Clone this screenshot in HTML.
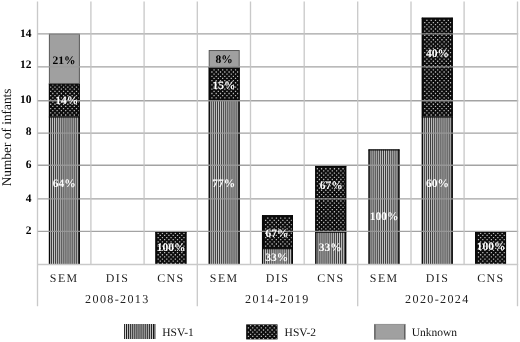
<!DOCTYPE html>
<html><head><meta charset="utf-8"><title>chart</title>
<style>
html,body{margin:0;padding:0;background:#fff;}
svg{display:block;font-family:"Liberation Serif",serif;will-change:transform;}
.b{font-weight:bold;font-size:11.5px;}
.c{font-size:11.9px;letter-spacing:1.45px;}
.g{font-size:12.1px;letter-spacing:1.35px;}
text{text-rendering:geometricPrecision;}
.l{font-size:11.5px;}
</style></head><body>
<svg width="520" height="342" viewBox="0 0 520 342">
<defs>
<filter id="bl" x="-5%" y="-5%" width="110%" height="110%"><feGaussianBlur stdDeviation="0.5"/></filter>
<filter id="b2" x="-5%" y="-5%" width="110%" height="110%"><feGaussianBlur stdDeviation="0.3"/></filter>
</defs>
<rect width="520" height="342" fill="#fff"/>

<g>
<g filter="url(#b2)">
<rect x="48.89" y="116.46" width="31" height="147.64" fill="#383838"/>
<path d="M49.89 190.28H78.98" stroke="#c6c6c6" stroke-width="147.64" stroke-dasharray="1.05 1.02" fill="none"/>
</g>
<path d="M49.49 264.1V116.46M79.29 116.46V264.1" fill="none" stroke="#080808" stroke-width="1.2"/><path d="M48.89 117.01H79.89" stroke="#080808" stroke-width="1.1"/>
<g filter="url(#bl)">
<rect x="48.89" y="83.54" width="31" height="32.92" fill="#080808"/>
<path d="M52.15 84.9H78.98M52.15 89.2H78.98M52.15 93.5H78.98M52.15 97.8H78.98M52.15 102.1H78.98M52.15 106.4H78.98M52.15 110.7H78.98M52.15 115H78.98" stroke="#bcbcbc" stroke-width="1.3" stroke-dasharray="1.3 3" fill="none"/>
<path d="M50 87.05H78.98M50 91.35H78.98M50 95.65H78.98M50 99.95H78.98M50 104.25H78.98M50 108.55H78.98M50 112.85H78.98" stroke="#bcbcbc" stroke-width="1.3" stroke-dasharray="1.3 3" fill="none"/>
</g>
<path d="M49.49 116.46V83.54M79.29 83.54V116.46" fill="none" stroke="#080808" stroke-width="1.2"/><path d="M48.89 84.09H79.89" stroke="#080808" stroke-width="1.1"/>
<rect x="49.39" y="34.06" width="30" height="49.48" fill="#a0a0a0" stroke="#585858" stroke-width="1"/>
<g filter="url(#bl)">
<rect x="155.43" y="231.68" width="31" height="32.42" fill="#080808"/>
<path d="M159.65 235.4H185.53M159.65 239.7H185.53M159.65 244H185.53M159.65 248.3H185.53M159.65 252.6H185.53M159.65 256.9H185.53M159.65 261.2H185.53" stroke="#bcbcbc" stroke-width="1.3" stroke-dasharray="1.3 3" fill="none"/>
<path d="M157.5 233.25H185.53M157.5 237.55H185.53M157.5 241.85H185.53M157.5 246.15H185.53M157.5 250.45H185.53M157.5 254.75H185.53M157.5 259.05H185.53M157.5 263.35H185.53" stroke="#bcbcbc" stroke-width="1.3" stroke-dasharray="1.3 3" fill="none"/>
</g>
<path d="M156.03 264.1V231.68M185.83 231.68V264.1" fill="none" stroke="#080808" stroke-width="1.2"/><path d="M155.43 232.23H186.43" stroke="#080808" stroke-width="1.1"/>
<g filter="url(#b2)">
<rect x="208.7" y="100" width="31" height="164.1" fill="#383838"/>
<path d="M209.7 182.05H238.8" stroke="#c6c6c6" stroke-width="164.1" stroke-dasharray="1.05 1.02" fill="none"/>
</g>
<path d="M209.3 264.1V100M239.1 100V264.1" fill="none" stroke="#080808" stroke-width="1.2"/><path d="M208.7 100.55H239.7" stroke="#080808" stroke-width="1.1"/>
<g filter="url(#bl)">
<rect x="208.7" y="67.08" width="31" height="32.92" fill="#080808"/>
<path d="M211.25 72H238.8M211.25 76.3H238.8M211.25 80.6H238.8M211.25 84.9H238.8M211.25 89.2H238.8M211.25 93.5H238.8M211.25 97.8H238.8" stroke="#bcbcbc" stroke-width="1.3" stroke-dasharray="1.3 3" fill="none"/>
<path d="M213.4 69.85H238.8M213.4 74.15H238.8M213.4 78.45H238.8M213.4 82.75H238.8M213.4 87.05H238.8M213.4 91.35H238.8M213.4 95.65H238.8" stroke="#bcbcbc" stroke-width="1.3" stroke-dasharray="1.3 3" fill="none"/>
</g>
<path d="M209.3 100V67.08M239.1 67.08V100" fill="none" stroke="#080808" stroke-width="1.2"/><path d="M208.7 67.63H239.7" stroke="#080808" stroke-width="1.1"/>
<rect x="209.2" y="50.52" width="30" height="16.56" fill="#a0a0a0" stroke="#585858" stroke-width="1"/>
<g filter="url(#b2)">
<rect x="261.97" y="248.14" width="31" height="15.96" fill="#383838"/>
<path d="M262.97 256.12H292.07" stroke="#c6c6c6" stroke-width="15.96" stroke-dasharray="1.05 1.02" fill="none"/>
</g>
<path d="M262.57 264.1V248.14M292.37 248.14V264.1" fill="none" stroke="#080808" stroke-width="1.2"/><path d="M261.97 248.69H292.97" stroke="#080808" stroke-width="1.1"/>
<g filter="url(#bl)">
<rect x="261.97" y="215.22" width="31" height="32.92" fill="#080808"/>
<path d="M267.15 218.2H292.07M267.15 222.5H292.07M267.15 226.8H292.07M267.15 231.1H292.07M267.15 235.4H292.07M267.15 239.7H292.07M267.15 244H292.07" stroke="#bcbcbc" stroke-width="1.3" stroke-dasharray="1.3 3" fill="none"/>
<path d="M265 220.35H292.07M265 224.65H292.07M265 228.95H292.07M265 233.25H292.07M265 237.55H292.07M265 241.85H292.07M265 246.15H292.07" stroke="#bcbcbc" stroke-width="1.3" stroke-dasharray="1.3 3" fill="none"/>
</g>
<path d="M262.57 248.14V215.22M292.37 215.22V248.14" fill="none" stroke="#080808" stroke-width="1.2"/><path d="M261.97 215.77H292.97" stroke="#080808" stroke-width="1.1"/>
<g filter="url(#b2)">
<rect x="315.24" y="231.68" width="31" height="32.42" fill="#383838"/>
<path d="M316.24 247.89H345.34" stroke="#c6c6c6" stroke-width="32.42" stroke-dasharray="1.05 1.02" fill="none"/>
</g>
<path d="M315.84 264.1V231.68M345.63 231.68V264.1" fill="none" stroke="#080808" stroke-width="1.2"/><path d="M315.24 232.23H346.24" stroke="#080808" stroke-width="1.1"/>
<g filter="url(#bl)">
<rect x="315.24" y="165.84" width="31" height="65.84" fill="#080808"/>
<path d="M318.75 170.9H345.34M318.75 175.2H345.34M318.75 179.5H345.34M318.75 183.8H345.34M318.75 188.1H345.34M318.75 192.4H345.34M318.75 196.7H345.34M318.75 201H345.34M318.75 205.3H345.34M318.75 209.6H345.34M318.75 213.9H345.34M318.75 218.2H345.34M318.75 222.5H345.34M318.75 226.8H345.34M318.75 231.1H345.34" stroke="#bcbcbc" stroke-width="1.3" stroke-dasharray="1.3 3" fill="none"/>
<path d="M316.6 168.75H345.34M316.6 173.05H345.34M316.6 177.35H345.34M316.6 181.65H345.34M316.6 185.95H345.34M316.6 190.25H345.34M316.6 194.55H345.34M316.6 198.85H345.34M316.6 203.15H345.34M316.6 207.45H345.34M316.6 211.75H345.34M316.6 216.05H345.34M316.6 220.35H345.34M316.6 224.65H345.34M316.6 228.95H345.34" stroke="#bcbcbc" stroke-width="1.3" stroke-dasharray="1.3 3" fill="none"/>
</g>
<path d="M315.84 231.68V165.84M345.63 165.84V231.68" fill="none" stroke="#080808" stroke-width="1.2"/><path d="M315.24 166.39H346.24" stroke="#080808" stroke-width="1.1"/>
<g filter="url(#b2)">
<rect x="368.5" y="149.38" width="31" height="114.72" fill="#383838"/>
<path d="M369.5 206.74H398.61" stroke="#c6c6c6" stroke-width="114.72" stroke-dasharray="1.05 1.02" fill="none"/>
</g>
<path d="M369.11 264.1V149.38M398.9 149.38V264.1" fill="none" stroke="#080808" stroke-width="1.2"/><path d="M368.5 149.93H399.5" stroke="#080808" stroke-width="1.1"/>
<g filter="url(#b2)">
<rect x="421.78" y="116.46" width="31" height="147.64" fill="#383838"/>
<path d="M422.78 190.28H451.88" stroke="#c6c6c6" stroke-width="147.64" stroke-dasharray="1.05 1.02" fill="none"/>
</g>
<path d="M422.38 264.1V116.46M452.18 116.46V264.1" fill="none" stroke="#080808" stroke-width="1.2"/><path d="M421.78 117.01H452.78" stroke="#080808" stroke-width="1.1"/>
<g filter="url(#bl)">
<rect x="421.78" y="17.7" width="31" height="98.76" fill="#080808"/>
<path d="M426.25 20.4H451.88M426.25 24.7H451.88M426.25 29H451.88M426.25 33.3H451.88M426.25 37.6H451.88M426.25 41.9H451.88M426.25 46.2H451.88M426.25 50.5H451.88M426.25 54.8H451.88M426.25 59.1H451.88M426.25 63.4H451.88M426.25 67.7H451.88M426.25 72H451.88M426.25 76.3H451.88M426.25 80.6H451.88M426.25 84.9H451.88M426.25 89.2H451.88M426.25 93.5H451.88M426.25 97.8H451.88M426.25 102.1H451.88M426.25 106.4H451.88M426.25 110.7H451.88M426.25 115H451.88" stroke="#bcbcbc" stroke-width="1.3" stroke-dasharray="1.3 3" fill="none"/>
<path d="M424.1 22.55H451.88M424.1 26.85H451.88M424.1 31.15H451.88M424.1 35.45H451.88M424.1 39.75H451.88M424.1 44.05H451.88M424.1 48.35H451.88M424.1 52.65H451.88M424.1 56.95H451.88M424.1 61.25H451.88M424.1 65.55H451.88M424.1 69.85H451.88M424.1 74.15H451.88M424.1 78.45H451.88M424.1 82.75H451.88M424.1 87.05H451.88M424.1 91.35H451.88M424.1 95.65H451.88M424.1 99.95H451.88M424.1 104.25H451.88M424.1 108.55H451.88M424.1 112.85H451.88" stroke="#bcbcbc" stroke-width="1.3" stroke-dasharray="1.3 3" fill="none"/>
</g>
<path d="M422.38 116.46V17.7M452.18 17.7V116.46" fill="none" stroke="#080808" stroke-width="1.2"/><path d="M421.78 18.25H452.78" stroke="#080808" stroke-width="1.1"/>
<g filter="url(#bl)">
<rect x="475.05" y="231.68" width="31" height="32.42" fill="#080808"/>
<path d="M477.85 235.4H505.15M477.85 239.7H505.15M477.85 244H505.15M477.85 248.3H505.15M477.85 252.6H505.15M477.85 256.9H505.15M477.85 261.2H505.15" stroke="#bcbcbc" stroke-width="1.3" stroke-dasharray="1.3 3" fill="none"/>
<path d="M480 233.25H505.15M480 237.55H505.15M480 241.85H505.15M480 246.15H505.15M480 250.45H505.15M480 254.75H505.15M480 259.05H505.15M480 263.35H505.15" stroke="#bcbcbc" stroke-width="1.3" stroke-dasharray="1.3 3" fill="none"/>
</g>
<path d="M475.65 264.1V231.68M505.44 231.68V264.1" fill="none" stroke="#080808" stroke-width="1.2"/><path d="M475.05 232.23H506.05" stroke="#080808" stroke-width="1.1"/>
</g>
<g stroke="#9a9a9a" stroke-width="1.3" opacity="0.9">
<line x1="37.00" y1="231.45" x2="518.2" y2="231.45"/>
<line x1="37.00" y1="198.95" x2="518.2" y2="198.95"/>
<line x1="37.00" y1="165.25" x2="518.2" y2="165.25"/>
<line x1="37.00" y1="133.05" x2="518.2" y2="133.05"/>
<line x1="37.00" y1="100.75" x2="518.2" y2="100.75"/>
<line x1="37.00" y1="66.95" x2="518.2" y2="66.95"/>
<line x1="37.00" y1="33.95" x2="518.2" y2="33.95"/>
</g>
<g stroke="#c4c4c4" stroke-width="1.35" opacity="0.9">
<line x1="37.00" y1="264.50" x2="518.2" y2="264.50"/>
<line x1="37.50" y1="1.4" x2="37.50" y2="306.20"/>
<line x1="90.90" y1="1.4" x2="90.90" y2="264.50"/>
<line x1="144.10" y1="1.4" x2="144.10" y2="264.50"/>
<line x1="197.30" y1="1.4" x2="197.30" y2="306.20"/>
<line x1="250.50" y1="1.4" x2="250.50" y2="264.50"/>
<line x1="304.20" y1="1.4" x2="304.20" y2="264.50"/>
<line x1="357.70" y1="1.4" x2="357.70" y2="306.20"/>
<line x1="411.00" y1="1.4" x2="411.00" y2="264.50"/>
<line x1="464.10" y1="1.4" x2="464.10" y2="264.50"/>
<line x1="517.50" y1="1.4" x2="517.50" y2="306.20"/>
</g>
<text class="b" x="64.25" y="187.00" text-anchor="middle" fill="#fff">64%</text>
<text class="b" x="66.70" y="104.20" text-anchor="middle" fill="#fff">14%</text>
<text class="b" x="64.10" y="63.60" text-anchor="middle" fill="#000">21%</text>
<text class="b" x="171.15" y="251.30" text-anchor="middle" fill="#fff">100%</text>
<text class="b" x="223.85" y="187.10" text-anchor="middle" fill="#fff">77%</text>
<text class="b" x="224.05" y="89.00" text-anchor="middle" fill="#fff">15%</text>
<text class="b" x="224.12" y="63.00" text-anchor="middle" fill="#000">8%</text>
<text class="b" x="276.85" y="260.50" text-anchor="middle" fill="#fff">33%</text>
<text class="b" x="277.05" y="236.70" text-anchor="middle" fill="#fff">67%</text>
<text class="b" x="330.25" y="251.30" text-anchor="middle" fill="#fff">33%</text>
<text class="b" x="331.20" y="189.40" text-anchor="middle" fill="#fff">67%</text>
<text class="b" x="384.00" y="220.10" text-anchor="middle" fill="#fff">100%</text>
<text class="b" x="437.40" y="187.00" text-anchor="middle" fill="#fff">60%</text>
<text class="b" x="437.40" y="57.40" text-anchor="middle" fill="#fff">40%</text>
<text class="b" x="491.15" y="249.80" text-anchor="middle" fill="#fff">100%</text>
<text class="b" x="31.5" y="234.00" text-anchor="end" fill="#000">2</text>
<text class="b" x="31.5" y="202.15" text-anchor="end" fill="#000">4</text>
<text class="b" x="31.5" y="168.10" text-anchor="end" fill="#000">6</text>
<text class="b" x="31.5" y="135.40" text-anchor="end" fill="#000">8</text>
<text class="b" x="31.5" y="102.65" text-anchor="end" fill="#000">10</text>
<text class="b" x="31.5" y="68.40" text-anchor="end" fill="#000">12</text>
<text class="b" x="31.5" y="37.00" text-anchor="end" fill="#000">14</text>
<text transform="translate(11.1,137.4) rotate(-90)" text-anchor="middle" font-size="13.35px" fill="#111">Number of infants</text>
<text class="c" x="64.26" y="282.4" text-anchor="middle" fill="#222">SEM</text>
<text class="c" x="117.59" y="282.4" text-anchor="middle" fill="#222">DIS</text>
<text class="c" x="170.92" y="282.4" text-anchor="middle" fill="#222">CNS</text>
<text class="c" x="224.25" y="282.4" text-anchor="middle" fill="#222">SEM</text>
<text class="c" x="277.59" y="282.4" text-anchor="middle" fill="#222">DIS</text>
<text class="c" x="330.92" y="282.4" text-anchor="middle" fill="#222">CNS</text>
<text class="c" x="384.25" y="282.4" text-anchor="middle" fill="#222">SEM</text>
<text class="c" x="437.57" y="282.4" text-anchor="middle" fill="#222">DIS</text>
<text class="c" x="490.91" y="282.4" text-anchor="middle" fill="#222">CNS</text>
<text class="g" x="117.40" y="302.8" text-anchor="middle" fill="#222">2008-2013</text>
<text class="g" x="277.38" y="302.8" text-anchor="middle" fill="#222">2014-2019</text>
<text class="g" x="437.38" y="302.8" text-anchor="middle" fill="#222">2020-2024</text>
<g>
<g filter="url(#b2)">
<rect x="124.1" y="324" width="31.3" height="15" fill="#151515"/>
<path d="M125 331.5H154.5" stroke="#d0d0d0" stroke-width="15" stroke-dasharray="1.05 1.02" fill="none"/>
</g>
<g filter="url(#bl)">
<rect x="246.2" y="324.4" width="31.3" height="15" fill="#080808"/>
<path d="M249.95 325.7H276.6M249.95 330H276.6M249.95 334.3H276.6M249.95 338.6H276.6" stroke="#bcbcbc" stroke-width="1.3" stroke-dasharray="1.3 3" fill="none"/>
<path d="M247.8 327.85H276.6M247.8 332.15H276.6M247.8 336.45H276.6" stroke="#bcbcbc" stroke-width="1.3" stroke-dasharray="1.3 3" fill="none"/>
</g>
<rect x="374.2" y="324.1" width="31.2" height="15.3" fill="#a0a0a0"/><path d="M374.9 324.2V339.4M404.7 324.2V339.4" stroke="#606060" stroke-width="1.4"/><path d="M374.2 324.4H405.4M374.2 339.1H405.4" stroke="#8a8a8a" stroke-width="0.7"/>
</g>
<text class="l" x="162.3" y="336.3" fill="#111">HSV-1</text>
<text class="l" x="284.6" y="336.3" fill="#111">HSV-2</text>
<text class="l" x="411.7" y="336.3" fill="#111">Unknown</text>
</svg></body></html>
